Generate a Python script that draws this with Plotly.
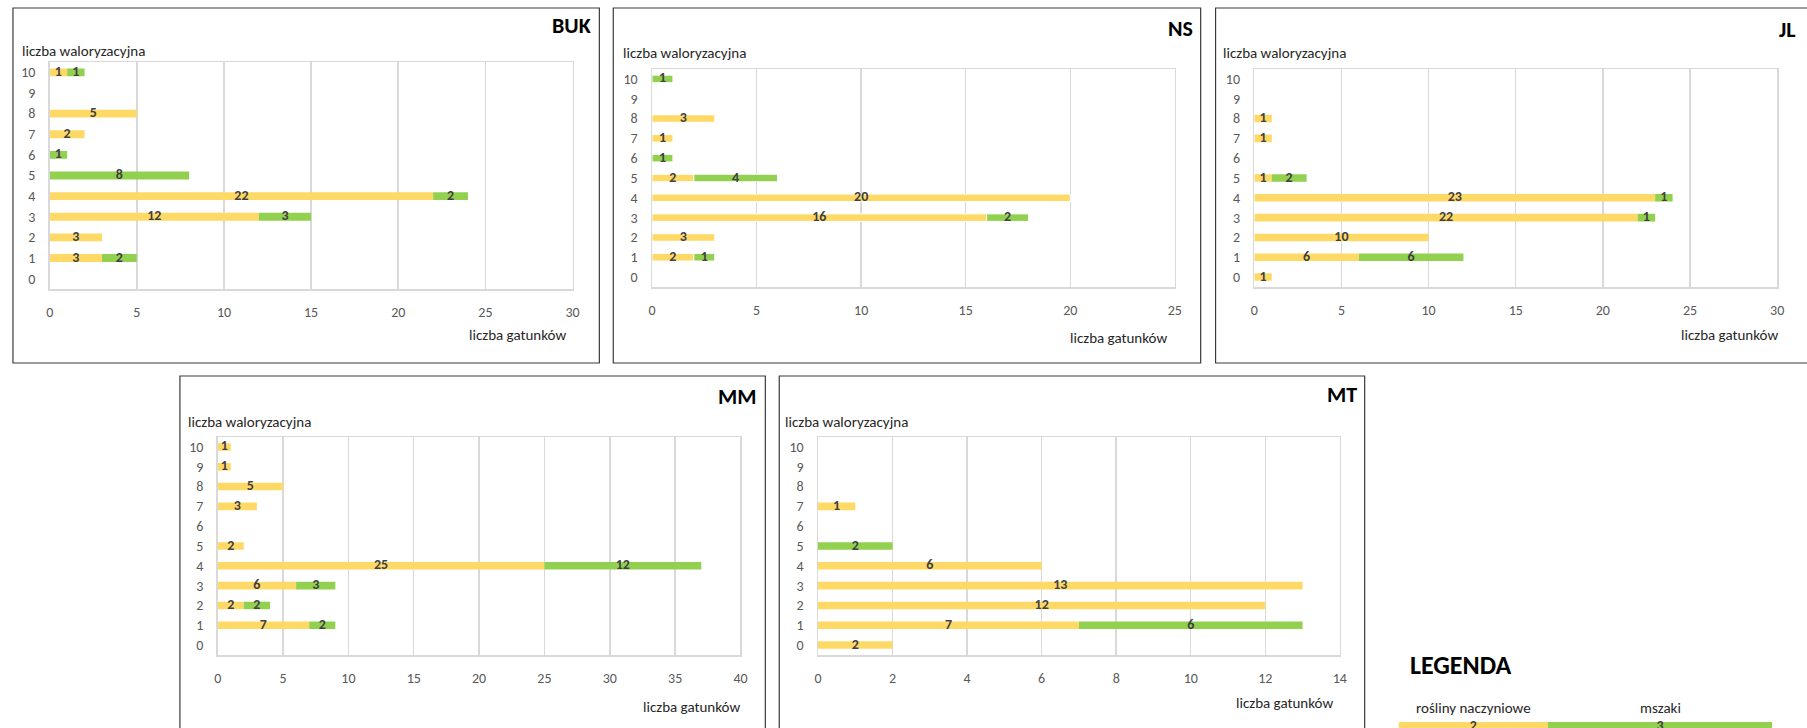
import plotly.graph_objects as go

W, H = 1807, 728

# ---------------- data ----------------
categories = list(range(11))  # liczba waloryzacyjna 0..10

buk_vasc = [0, 3, 3, 12, 22, 0, 0, 2, 5, 0, 1]
buk_moss = [0, 2, 0, 3, 2, 8, 1, 0, 0, 0, 1]
ns_vasc = [0, 2, 3, 16, 20, 2, 0, 1, 3, 0, 0]
ns_moss = [0, 1, 0, 2, 0, 4, 1, 0, 0, 0, 1]
jl_vasc = [1, 6, 10, 22, 23, 1, 0, 1, 1, 0, 0]
jl_moss = [0, 6, 0, 1, 1, 2, 0, 0, 0, 0, 0]
mm_vasc = [0, 7, 2, 6, 25, 2, 0, 3, 5, 1, 1]
mm_moss = [0, 2, 2, 3, 12, 0, 0, 0, 0, 0, 0]
mt_vasc = [2, 7, 12, 13, 6, 0, 0, 1, 0, 0, 0]
mt_moss = [0, 6, 0, 0, 0, 2, 0, 0, 0, 0, 0]

panel_names = ["BUK", "NS", "JL", "MM", "MT"]
panel_vasc = [buk_vasc, ns_vasc, jl_vasc, mm_vasc, mt_vasc]
panel_moss = [buk_moss, ns_moss, jl_moss, mm_moss, mt_moss]
x_max = [30, 25, 30, 40, 14]
x_dtick = [5, 5, 5, 5, 2]

y_title = "liczba waloryzacyjna"
x_title = "liczba gatunków"
legend_title = "LEGENDA"
legend_labels = ["rośliny naczyniowe", "mszaki"]
legend_values = [2, 3]

# ---------------- layout geometry (pixels) ----------------
geom = [
    dict(box=(9, 8, 599, 363), plot=(46, 62, 572, 289), title=(593, 26), ylab=(16, 51), xlab=(567, 335), outline=0),
    dict(box=(613, 8, 1204, 363), plot=(652, 69, 1178, 287), title=(1198, 29), ylab=(621, 53), xlab=(1172, 338), outline=1),
    dict(box=(1219, 8, 1830, 363), plot=(1258, 69, 1784, 287), title=(1805, 30), ylab=(1224, 53), xlab=(1787, 335), outline=0),
    dict(box=(177, 376, 766, 760), plot=(215, 437, 741, 655), title=(759, 397), ylab=(183, 422), xlab=(743, 707), outline=0),
    dict(box=(780, 376, 1369, 760), plot=(819, 437, 1344, 655), title=(1363, 395), ylab=(784, 422), xlab=(1339, 703), outline=0),
]

YELLOW = "#FFD966"
GREEN = "#92D050"
FONT = "Carlito, Lato, sans-serif"


def px(x):
    return x / W


def py(y):
    return 1 - y / H


fig = go.Figure()
shapes = []
annotations = []
layout_axes = {}

for i, name in enumerate(panel_names):
    g = geom[i]
    k = i + 1
    xa = "x" if k == 1 else f"x{k}"
    ya = "y" if k == 1 else f"y{k}"
    vasc = panel_vasc[i]
    moss = panel_moss[i]
    ol = dict(width=g["outline"], color="white")

    vy = [c for c, v in zip(categories, vasc) if v > 0]
    vx = [v for v in vasc if v > 0]
    fig.add_trace(go.Bar(
        x=vx, y=vy, base=[0] * len(vx), orientation="h", width=0.38,
        marker=dict(color=YELLOW, line=ol),
        xaxis=xa, yaxis=ya, showlegend=False, hoverinfo="skip"))

    my = [c for c, m in zip(categories, moss) if m > 0]
    mx = [m for m in moss if m > 0]
    mb = [vasc[c] for c, m in zip(categories, moss) if m > 0]
    fig.add_trace(go.Bar(
        x=mx, y=my, base=mb, orientation="h", width=0.38,
        marker=dict(color=GREEN, line=ol),
        xaxis=xa, yaxis=ya, showlegend=False, hoverinfo="skip"))

    lx, ly, lt = [], [], []
    for c, v, m in zip(categories, vasc, moss):
        if v > 0:
            lx.append(v / 2); ly.append(c); lt.append(f"<b>{v}</b>")
        if m > 0:
            lx.append(v + m / 2); ly.append(c); lt.append(f"<b>{m}</b>")
    fig.add_trace(go.Scatter(
        x=lx, y=ly, text=lt, mode="text", textposition="middle center",
        textfont=dict(family=FONT, size=14, color="#404040"),
        xaxis=xa, yaxis=ya, showlegend=False, hoverinfo="skip", cliponaxis=False))

    L, T, R, B = g["plot"]
    axis_common = dict(showline=True, mirror=True, linecolor="#D9D9D9", linewidth=1.5,
                       zeroline=False, fixedrange=True,
                       tickfont=dict(family=FONT, size=14, color="#595959"))
    layout_axes["xaxis" if k == 1 else f"xaxis{k}"] = dict(
        domain=[px(L), px(R)], range=[0, x_max[i]], dtick=x_dtick[i], tick0=0,
        showgrid=True, gridcolor="#D9D9D9", gridwidth=1.5,
        ticks="outside", ticklen=10, tickcolor="rgba(0,0,0,0)",
        anchor=ya, **axis_common)
    layout_axes["yaxis" if k == 1 else f"yaxis{k}"] = dict(
        domain=[py(B), py(T)], range=[-0.5, 10.5], tickvals=categories,
        showgrid=False, ticks="outside", ticklen=10, tickcolor="rgba(0,0,0,0)",
        anchor=xa, **axis_common)

    bL, bT, bR, bB = g["box"]
    shapes.append(dict(type="rect", xref="paper", yref="paper",
                       x0=px(bL), x1=px(bR), y0=py(bB), y1=py(bT),
                       line=dict(color="#3A3A3A", width=1.2), layer="below"))

    annotations.append(dict(text=f"<b>{name}</b>", xref="paper", yref="paper",
                            x=px(g["title"][0]), y=py(g["title"][1]),
                            xanchor="right", yanchor="middle", showarrow=False,
                            font=dict(family=FONT, size=22, color="#000000")))
    annotations.append(dict(text=y_title, xref="paper", yref="paper",
                            x=px(g["ylab"][0]), y=py(g["ylab"][1]),
                            xanchor="left", yanchor="middle", showarrow=False,
                            font=dict(family=FONT, size=15, color="#262626")))
    annotations.append(dict(text=x_title, xref="paper", yref="paper",
                            x=px(g["xlab"][0]), y=py(g["xlab"][1]),
                            xanchor="right", yanchor="middle", showarrow=False,
                            font=dict(family=FONT, size=15, color="#262626")))

# ---------------- legend panel ----------------
lbase = [0, legend_values[0]]
lcolors = [YELLOW, GREEN]
for j in range(2):
    fig.add_trace(go.Bar(
        x=[legend_values[j]], y=[0], base=[lbase[j]], orientation="h", width=1,
        marker=dict(color=lcolors[j], line=dict(width=0)),
        xaxis="x6", yaxis="y6", showlegend=False, hoverinfo="skip"))
fig.add_trace(go.Scatter(
    x=[lbase[j] + legend_values[j] / 2 for j in range(2)], y=[0, 0],
    text=[f"<b>{v}</b>" for v in legend_values], mode="text",
    textfont=dict(family=FONT, size=14, color="#404040"),
    xaxis="x6", yaxis="y6", showlegend=False, hoverinfo="skip", cliponaxis=False))
for j in range(2):
    annotations.append(dict(text=legend_labels[j], xref="x6", yref="paper",
                            x=lbase[j] + legend_values[j] / 2, y=py(708),
                            xanchor="center", yanchor="middle", showarrow=False,
                            font=dict(family=FONT, size=15, color="#262626")))
layout_axes["xaxis6"] = dict(domain=[px(1403), px(1779)], range=[0, 5], visible=False,
                             anchor="y6", fixedrange=True)
layout_axes["yaxis6"] = dict(domain=[0, py(722)], range=[-0.25, 0.5], visible=False,
                             anchor="x6", fixedrange=True)
annotations.append(dict(text=f"<b>{legend_title}</b>", xref="paper", yref="paper",
                        x=px(1413), y=py(665), xanchor="left", yanchor="middle",
                        showarrow=False, font=dict(family=FONT, size=26, color="#000000")))

fig.update_layout(
    width=W, height=H, margin=dict(l=0, r=0, t=0, b=0),
    paper_bgcolor="white", plot_bgcolor="white",
    barmode="overlay", shapes=shapes, annotations=annotations,
    font=dict(family=FONT),
    **layout_axes)

fig.write_html("out.html", config={"displayModeBar": False, "staticPlot": True},
               post_script="document.body.style.margin='0';document.body.style.overflow='hidden';")
